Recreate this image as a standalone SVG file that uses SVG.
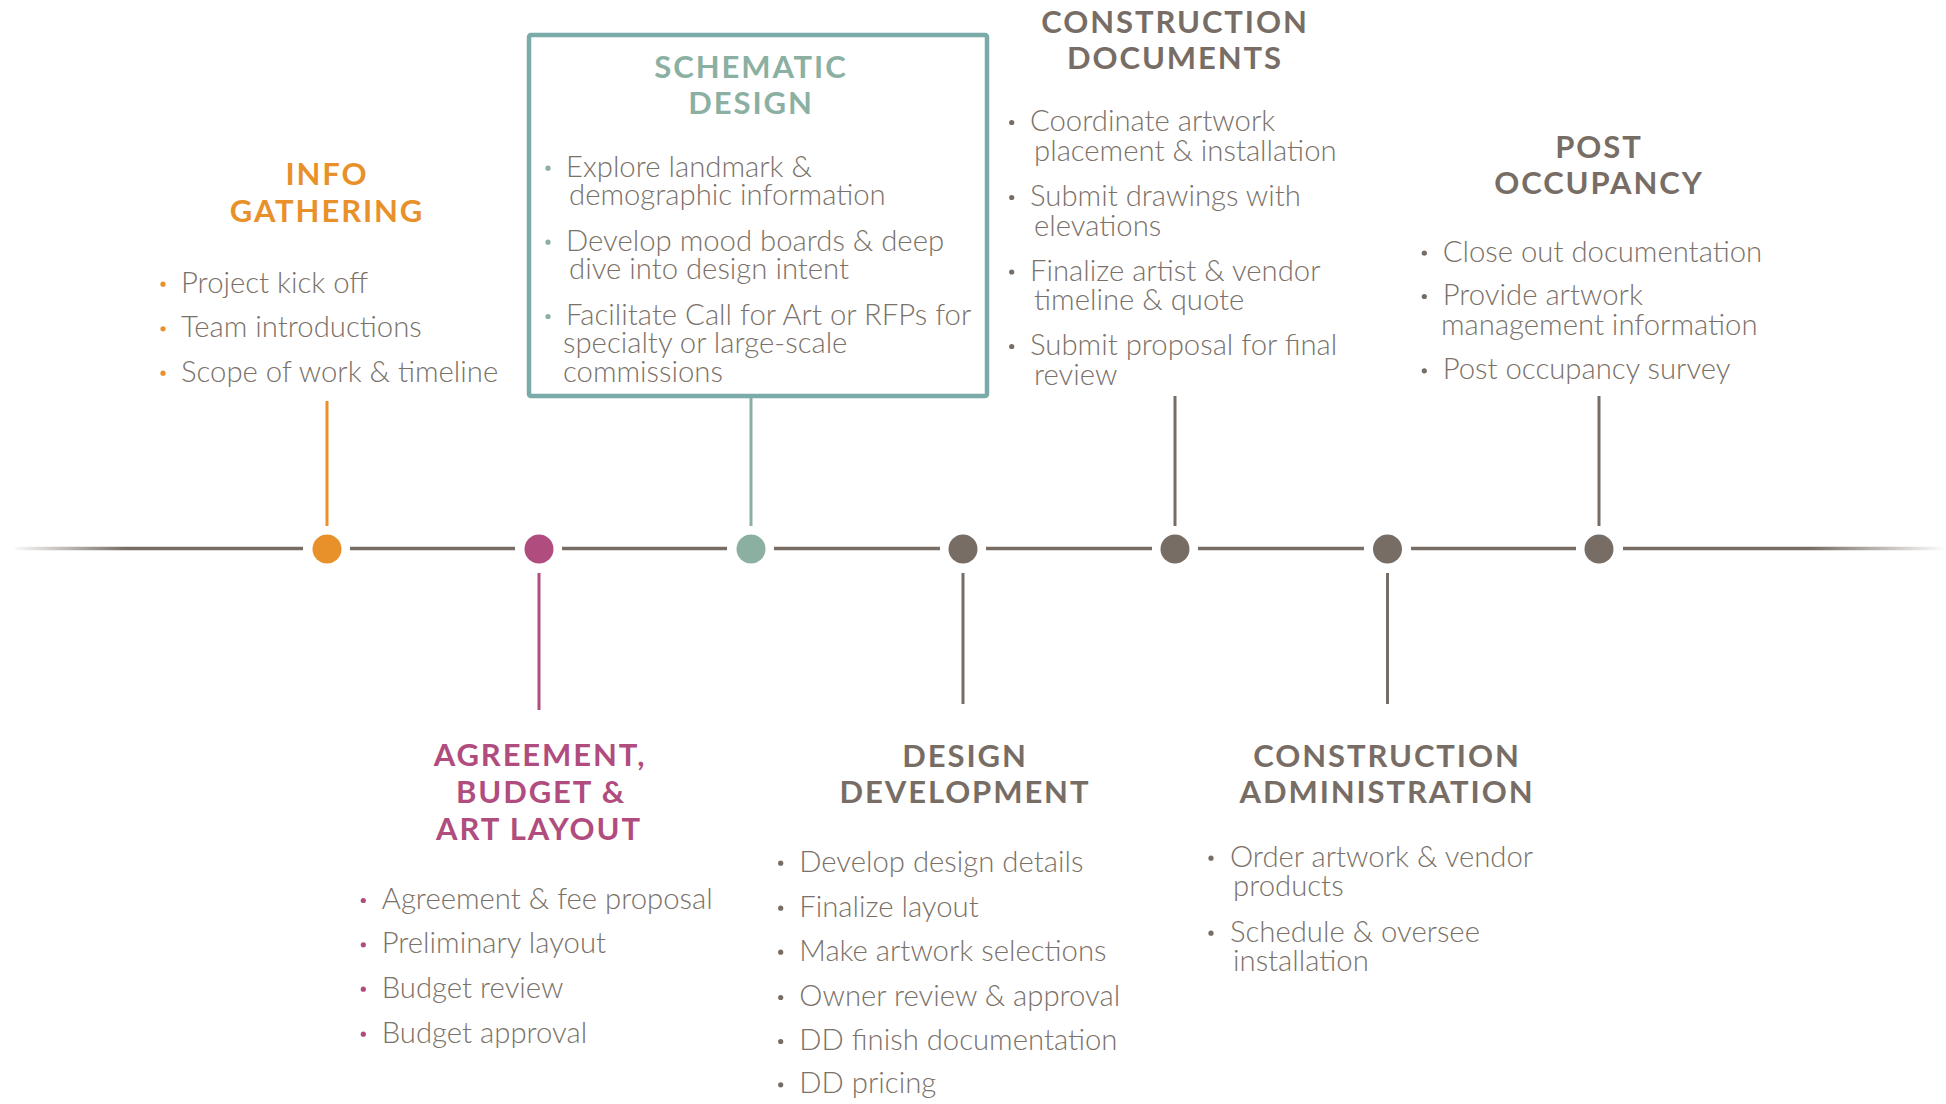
<svg xmlns="http://www.w3.org/2000/svg" width="1946" height="1104" viewBox="0 0 1946 1104">
<defs>
<linearGradient id="tl" gradientUnits="userSpaceOnUse" x1="10" y1="0" x2="1946" y2="0">
<stop offset="0" stop-color="#776d64" stop-opacity="0"/>
<stop offset="0.06" stop-color="#776d64" stop-opacity="1"/>
<stop offset="0.93" stop-color="#776d64" stop-opacity="1"/>
<stop offset="1" stop-color="#776d64" stop-opacity="0"/>
</linearGradient>
<style>
.t{font-family:Lato,"Open Sans","Liberation Sans",sans-serif;font-weight:700;font-size:31px;letter-spacing:1.9px;text-anchor:middle}
.b{font-family:Lato,"Open Sans","Liberation Sans",sans-serif;font-weight:300;font-size:29.3px;fill:#7a7169}
.or{fill:#e8912a}.mg{fill:#b04c7e}.sg{fill:#8bb0a2}.gr{fill:#776d65}
.cn{stroke-width:3;fill:none}
</style>
</defs>
<rect width="1946" height="1104" fill="#fff"/>
<g id="connectors">
<path d="M15 548.5H303M350 548.5H515M562 548.5H727M774 548.5H940M986 548.5H1152M1198 548.5H1364M1411 548.5H1576M1623 548.5H1946" stroke="url(#tl)" stroke-width="3.5" fill="none"/>
<line class="cn" x1="327" y1="401" x2="327" y2="526" stroke="#e8912a"/>
<line class="cn" x1="539" y1="573" x2="539" y2="710" stroke="#b04c7e"/>
<line class="cn" x1="751" y1="398" x2="751" y2="526" stroke="#8bb0a2"/>
<line class="cn" x1="963" y1="573" x2="963" y2="704" stroke="#776d65"/>
<line class="cn" x1="1175" y1="396" x2="1175" y2="526" stroke="#776d65"/>
<line class="cn" x1="1387.5" y1="573" x2="1387.5" y2="704" stroke="#776d65"/>
<line class="cn" x1="1599" y1="396" x2="1599" y2="526" stroke="#776d65"/>
</g>
<g id="info-gathering">
<circle cx="327" cy="549" r="14.5" class="or"/>
<text class="t or" x="327" y="185">INFO</text>
<text class="t or" x="327" y="222">GATHERING</text>
<circle cx="163" cy="284.2" r="2.6" class="or"/><text class="b" x="181" y="292.7">Project kick off</text>
<circle cx="163" cy="328.8" r="2.6" class="or"/><text class="b" x="181" y="337.3">Team introductions</text>
<circle cx="163" cy="373.2" r="2.6" class="or"/><text class="b" x="181" y="381.7">Scope of work &amp; timeline</text>
</g>
<g id="agreement">
<circle cx="539" cy="549" r="14.5" class="mg"/>
<text class="t mg" x="540" y="766">AGREEMENT,</text>
<text class="t mg" x="541" y="802.7">BUDGET &amp;</text>
<text class="t mg" x="539" y="840">ART LAYOUT</text>
<circle cx="363.3" cy="900.5" r="2.6" class="mg"/><text class="b" x="381.7" y="909">Agreement &amp; fee proposal</text>
<circle cx="363.3" cy="944.8" r="2.6" class="mg"/><text class="b" x="381.7" y="953.3">Preliminary layout</text>
<circle cx="363.3" cy="989.2" r="2.6" class="mg"/><text class="b" x="381.7" y="997.7">Budget review</text>
<circle cx="363.3" cy="1034.2" r="2.6" class="mg"/><text class="b" x="381.7" y="1042.7">Budget approval</text>
</g>
<g id="schematic-design">
<rect x="529" y="35" width="458" height="361" rx="2" fill="none" stroke="#7aaba9" stroke-width="4.5"/>
<circle cx="751" cy="549" r="14.5" class="sg"/>
<text class="t sg" x="751" y="77.7">SCHEMATIC</text>
<text class="t sg" x="751" y="114.3">DESIGN</text>
<circle cx="548" cy="168.2" r="2.6" class="sg"/><text class="b" x="566" y="176.7">Explore landmark &amp;</text>
<text class="b" x="569" y="205">demographic information</text>
<circle cx="548" cy="242.2" r="2.6" class="sg"/><text class="b" x="566" y="250.7">Develop mood boards &amp; deep</text>
<text class="b" x="569" y="279">dive into design intent</text>
<circle cx="548" cy="316.5" r="2.6" class="sg"/><text class="b" x="566" y="325">Facilitate Call for Art or RFPs for</text>
<text class="b" x="563" y="353">specialty or large-scale</text>
<text class="b" x="563" y="381.7">commissions</text>
</g>
<g id="design-development">
<circle cx="963" cy="549" r="14.5" class="gr"/>
<text class="t gr" x="965" y="766.7">DESIGN</text>
<text class="t gr" x="965" y="803.3">DEVELOPMENT</text>
<circle cx="780.7" cy="863.2" r="2.6" class="gr"/><text class="b" x="799.3" y="871.7">Develop design details</text>
<circle cx="780.7" cy="908.2" r="2.6" class="gr"/><text class="b" x="799.3" y="916.7">Finalize layout</text>
<circle cx="780.7" cy="952.2" r="2.6" class="gr"/><text class="b" x="799.3" y="960.7">Make artwork selections</text>
<circle cx="780.7" cy="997.5" r="2.6" class="gr"/><text class="b" x="799.3" y="1006">Owner review &amp; approval</text>
<circle cx="780.7" cy="1041.5" r="2.6" class="gr"/><text class="b" x="799.3" y="1050">DD finish documentation</text>
<circle cx="780.7" cy="1084.8" r="2.6" class="gr"/><text class="b" x="799.3" y="1093.3">DD pricing</text>
</g>
<g id="construction-documents">
<circle cx="1175" cy="549" r="14.5" class="gr"/>
<text class="t gr" x="1175" y="32.7">CONSTRUCTION</text>
<text class="t gr" x="1175" y="69.3">DOCUMENTS</text>
<circle cx="1011.7" cy="122.5" r="2.6" class="gr"/><text class="b" x="1030" y="131">Coordinate artwork</text>
<text class="b" x="1034" y="161">placement &amp; installation</text>
<circle cx="1011.7" cy="197.5" r="2.6" class="gr"/><text class="b" x="1030" y="206">Submit drawings with</text>
<text class="b" x="1034" y="236">elevations</text>
<circle cx="1011.7" cy="272" r="2.6" class="gr"/><text class="b" x="1030" y="280.5">Finalize artist &amp; vendor</text>
<text class="b" x="1034" y="310">timeline &amp; quote</text>
<circle cx="1011.7" cy="346.5" r="2.6" class="gr"/><text class="b" x="1030" y="355">Submit proposal for final</text>
<text class="b" x="1034" y="384.5">review</text>
</g>
<g id="construction-administration">
<circle cx="1387.5" cy="549" r="14.5" class="gr"/>
<text class="t gr" x="1387" y="766.7">CONSTRUCTION</text>
<text class="t gr" x="1387" y="803.3">ADMINISTRATION</text>
<circle cx="1211" cy="858.2" r="2.6" class="gr"/><text class="b" x="1230" y="866.7">Order artwork &amp; vendor</text>
<text class="b" x="1233" y="895.7">products</text>
<circle cx="1211" cy="933.2" r="2.6" class="gr"/><text class="b" x="1230" y="941.7">Schedule &amp; oversee</text>
<text class="b" x="1233" y="970.7">installation</text>
</g>
<g id="post-occupancy">
<circle cx="1599" cy="549" r="14.5" class="gr"/>
<text class="t gr" x="1599" y="158.3">POST</text>
<text class="t gr" x="1599" y="194">OCCUPANCY</text>
<circle cx="1424.3" cy="253.2" r="2.6" class="gr"/><text class="b" x="1442.7" y="261.7">Close out documentation</text>
<circle cx="1424.3" cy="296.5" r="2.6" class="gr"/><text class="b" x="1442.7" y="305">Provide artwork</text>
<text class="b" x="1441" y="335">management information</text>
<circle cx="1424.3" cy="370.8" r="2.6" class="gr"/><text class="b" x="1442.7" y="379.3">Post occupancy survey</text>
</g>
</svg>
